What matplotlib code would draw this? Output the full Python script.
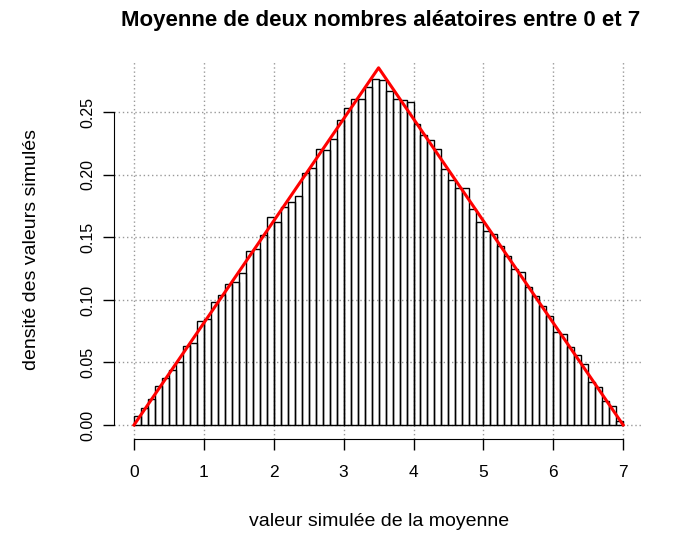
import numpy as np
import matplotlib.pyplot as plt

# histogramme : classes de largeur 0.1 entre 0 et 7
bords = np.round(np.arange(0, 7.01, 0.1), 1)
densites = [
    0.0075, 0.0138, 0.0210, 0.0310, 0.0373, 0.0440, 0.0500, 0.0634, 0.0658, 0.0833,
    0.0847, 0.0980, 0.1040, 0.1126, 0.1140, 0.1214, 0.1390, 0.1410, 0.1518, 0.1660,
    0.1620, 0.1744, 0.1787, 0.1832, 0.2013, 0.2053, 0.2204, 0.2196, 0.2284, 0.2439,
    0.2537, 0.2610, 0.2604, 0.2700, 0.2770, 0.2756, 0.2670, 0.2610, 0.2600, 0.2585,
    0.2404, 0.2316, 0.2276, 0.2204, 0.2045, 0.1957, 0.1893, 0.1893, 0.1730, 0.1627,
    0.1552, 0.1525, 0.1432, 0.1353, 0.1246, 0.1225, 0.1100, 0.1033, 0.0948, 0.0868,
    0.0740, 0.0727, 0.0620, 0.0559, 0.0487, 0.0346, 0.0301, 0.0189, 0.0154, 0.0035,
]

# densité théorique (loi triangulaire)
courbe_x = [0, 3.5, 7]
courbe_y = [0, 2 / 7, 0]

ticks_x = [0, 1, 2, 3, 4, 5, 6, 7]
ticks_y = [0.00, 0.05, 0.10, 0.15, 0.20, 0.25]

plt.rcParams['font.family'] = ['Liberation Sans', 'DejaVu Sans']

fig = plt.figure(figsize=(6.73, 5.37), dpi=100)
ax = fig.add_axes([0.170, 0.1825, 0.785, 0.704])

ax.bar(bords[:-1], densites, width=0.1, align='edge', facecolor='none',
       edgecolor='black', linewidth=1.0, zorder=2)
ax.plot(courbe_x, courbe_y, color='red', linewidth=2.2, zorder=3)

ax.set_xlim(-0.28, 7.28)
ax.set_ylim(-0.0112, 0.2912)

# grille pointillée (comme grid() sous R)
for gx in ticks_x:
    ax.axvline(gx, color='#999999', linestyle=(0, (1, 2)), linewidth=1, zorder=1)
for gy in ticks_y:
    ax.axhline(gy, color='#999999', linestyle=(0, (1, 2)), linewidth=1, zorder=1)

ax.spines['top'].set_visible(False)
ax.spines['right'].set_visible(False)
ax.spines['bottom'].set_bounds(0, 7)
ax.spines['left'].set_bounds(0, 0.25)

ax.set_xticks(ticks_x)
ax.set_xticklabels([str(t) for t in ticks_x])
ax.set_yticks(ticks_y)
ax.set_yticklabels(['%.2f' % t for t in ticks_y], rotation=90, va='center')
ax.tick_params(axis='both', length=8, width=1)
ax.tick_params(axis='x', pad=11, labelsize=12.5)
ax.tick_params(axis='y', pad=6, labelsize=11.5)

ax.set_xlabel('valeur simulée de la moyenne', fontsize=14)
ax.xaxis.set_label_coords(0.5, -0.195)
ax.set_ylabel('densité des valeurs simulés', fontsize=14)
ax.yaxis.set_label_coords(-0.14, 0.5)

fig.text(0.566, 0.962, 'Moyenne de deux nombres aléatoires entre 0 et 7',
         ha='center', va='center', fontsize=16, fontweight='bold')

fig.savefig('out.png', dpi=100)
